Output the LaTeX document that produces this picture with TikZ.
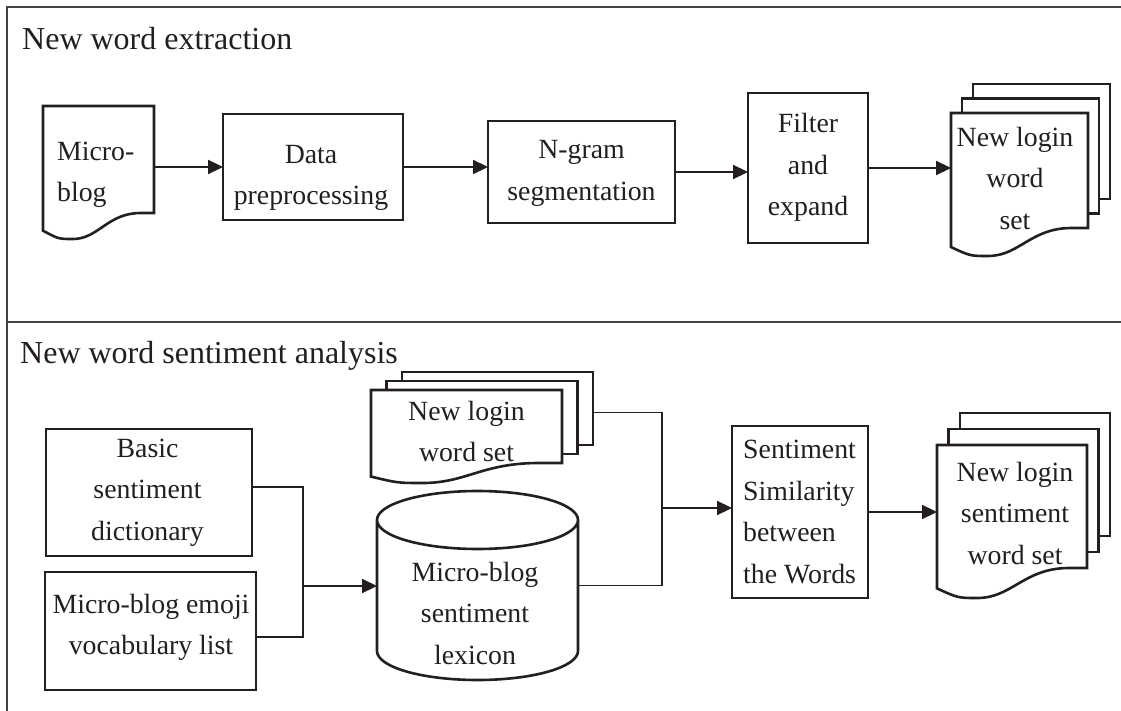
\documentclass[tikz,border=0pt]{standalone}
\usepackage{fontspec}
\setmainfont{Liberation Serif}
\usetikzlibrary{arrows.meta,calc}
\definecolor{ink}{HTML}{231F20}
\newcommand{\bodyfont}{\fontsize{27.8}{41.5}\selectfont}
\newcommand{\titlefont}{\fontsize{32}{36}\selectfont}
% document outline with wavy bottom, drawn on the body rectangle of a node
\newcommand{\docpath}[2]{%
  \draw[docline] let \p1=(#1.south west), \p2=(#1.north east), \n1={\x2-\x1} in
    ({\x1},{\y1-0.68*#2}) -- (\x1,\y2) -- (\x2,\y2) -- (\x2,\y1) -- ({\x2-0.12*\n1},\y1)
    .. controls ({\x2-0.42*\n1},\y1) and ({\x1+0.5*\n1},{\y1-#2}) .. ({\x1+0.27*\n1},{\y1-#2})
    .. controls ({\x1+0.14*\n1},{\y1-#2}) .. ({\x1},{\y1-0.68*#2}) -- cycle;}
% two pages stacked behind a document
\newcommand{\backpages}[3]{%
  \foreach \k in {2,1}{%
    \draw[docline] ($(#1.north west)+({\k*#2},{-\k*#3})$) rectangle ($(#1.south east)+({\k*#2},{-\k*#3})$);}}
\begin{document}
\begin{tikzpicture}[x=1pt,y=-1pt,
  box/.style={draw=ink, line width=2.6pt, fill=white, inner sep=0pt, outer sep=0pt},
  shp/.style={draw=none, inner sep=0pt, outer sep=0pt},
  docline/.style={draw=ink, line width=2.6pt, fill=white, line join=miter},
  txt/.style={inner sep=0pt, font=\bodyfont, align=center, text=ink},
  ltxt/.style={inner sep=0pt, font=\bodyfont, align=left, text=ink, anchor=west},
  ttl/.style={inner sep=0pt, font=\titlefont, text=ink, anchor=base west},
  arr/.style={draw=ink, line width=2.2pt, -{Triangle[length=15pt,width=14pt]}},
  conn/.style={draw=ink, line width=1.1pt},
  frameline/.style={draw=ink!85, line width=1.6pt}]
\useasboundingbox (0,0) rectangle (1121,711);
\fill[white] (0,0) rectangle (1121,711);

% frame
\draw[frameline] (7,711) -- (7,7) -- (1121,7);
\draw[frameline] (7,322) -- (1121,322);

% titles
\node[ttl] (t1) at (22,50) {New word extraction};
\node[ttl] (t2) at (20,363) {New word sentiment analysis};

% ---------- top row ----------
\node[shp, minimum width=111pt, minimum height=107pt] (mb) at (98.5,159.5) {};
\docpath{mb}{26}
\node[ltxt] (mbT) at (57,175) {Micro-\\blog};

\node[box, minimum width=180pt, minimum height=106pt] (dp) at (313,167) {};
\node[txt] (dpT) at (311,178) {Data\\preprocessing};

\node[box, minimum width=187pt, minimum height=102pt] (ng) at (581.5,172) {};
\node[txt] (ngT) at (581.5,173.5) {N-gram\\segmentation};

\node[box, minimum width=120pt, minimum height=150pt] (fe) at (808,168) {};
\node[txt] (feT) at (808,167.5) {Filter\\and\\expand};

\node[shp, minimum width=137pt, minimum height=115pt] (nw1) at (1019.5,170.5) {};
\backpages{nw1}{11}{14.5}
\docpath{nw1}{28}
\node[txt] (nw1T) at (1015,178) {New login\\word\\set};

\draw[arr] (mb.east |- dp.west) -- (dp.west);
\draw[arr] (dp.east) -- (dp.east -| ng.west);
\draw[arr] (ng.east) -- (ng.east -| fe.west);
\draw[arr] (fe.east) -- (fe.east -| nw1.west);

% ---------- bottom row ----------
\node[box, minimum width=206pt, minimum height=127pt] (bsd) at (149,492.5) {};
\node[txt] (bsdT) at (147.5,492.5) {Basic\\sentiment\\dictionary};

\node[box, minimum width=211pt, minimum height=118pt] (emj) at (150.5,631) {};
\node[txt] (emjT) at (151,627.5) {Micro-blog emoji\\vocabulary list};

\node[shp, minimum width=201pt, minimum height=189pt] (cyl) at (477.5,585.5) {};
\draw[docline] let \p1=(cyl.north west), \p2=(cyl.south east), \n1={(\x2-\x1)/2} in
  (\x1,{\y1-29}) -- (\x1,{\y2+29})
  arc[start angle=180, end angle=360, x radius={\n1*1pt}, y radius=29pt]
  -- (\x2,{\y1-29})
  arc[start angle=0, end angle=180, x radius={\n1*1pt}, y radius=29pt] -- cycle
  ({\x1+\n1},{\y1-29}) ellipse [x radius={\n1*1pt}, y radius=29pt];
\node[txt] (cylT) at (475,613) {Micro-blog\\sentiment\\lexicon};

\node[shp, minimum width=191pt, minimum height=73pt] (nw2) at (466.5,426.5) {};
\backpages{nw2}{15.5}{9}
\docpath{nw2}{20}
\node[txt] (nw2T) at (466.5,431.5) {New login\\word set};

\node[box, minimum width=136pt, minimum height=172pt] (ss) at (800,512) {};
\node[ltxt] (ssT) at (743,512) {Sentiment\\Similarity\\between\\the Words};

\node[shp, minimum width=150pt, minimum height=123pt] (nw3) at (1012,506.5) {};
\backpages{nw3}{11.5}{16}
\docpath{nw3}{30}
\node[txt] (nw3T) at (1015,513) {New login\\sentiment\\word set};

% connectors
\coordinate (j1) at (303,586);
\draw[conn] ([yshift=5.5pt]bsd.east) -| (j1) |- ([yshift=-6pt]emj.east);
\draw[arr] (j1) -- (j1 -| cyl.west);

\coordinate (nw2b) at ($(nw2.east)+(31,-14)$);
\coordinate (j2) at (662,508);
\draw[conn] (nw2b) -| (j2) |- (cyl.east);
\draw[arr] (j2) -- (j2 -| ss.west);

\draw[arr] (ss.east) -- (ss.east -| nw3.west);
\end{tikzpicture}
\end{document}
